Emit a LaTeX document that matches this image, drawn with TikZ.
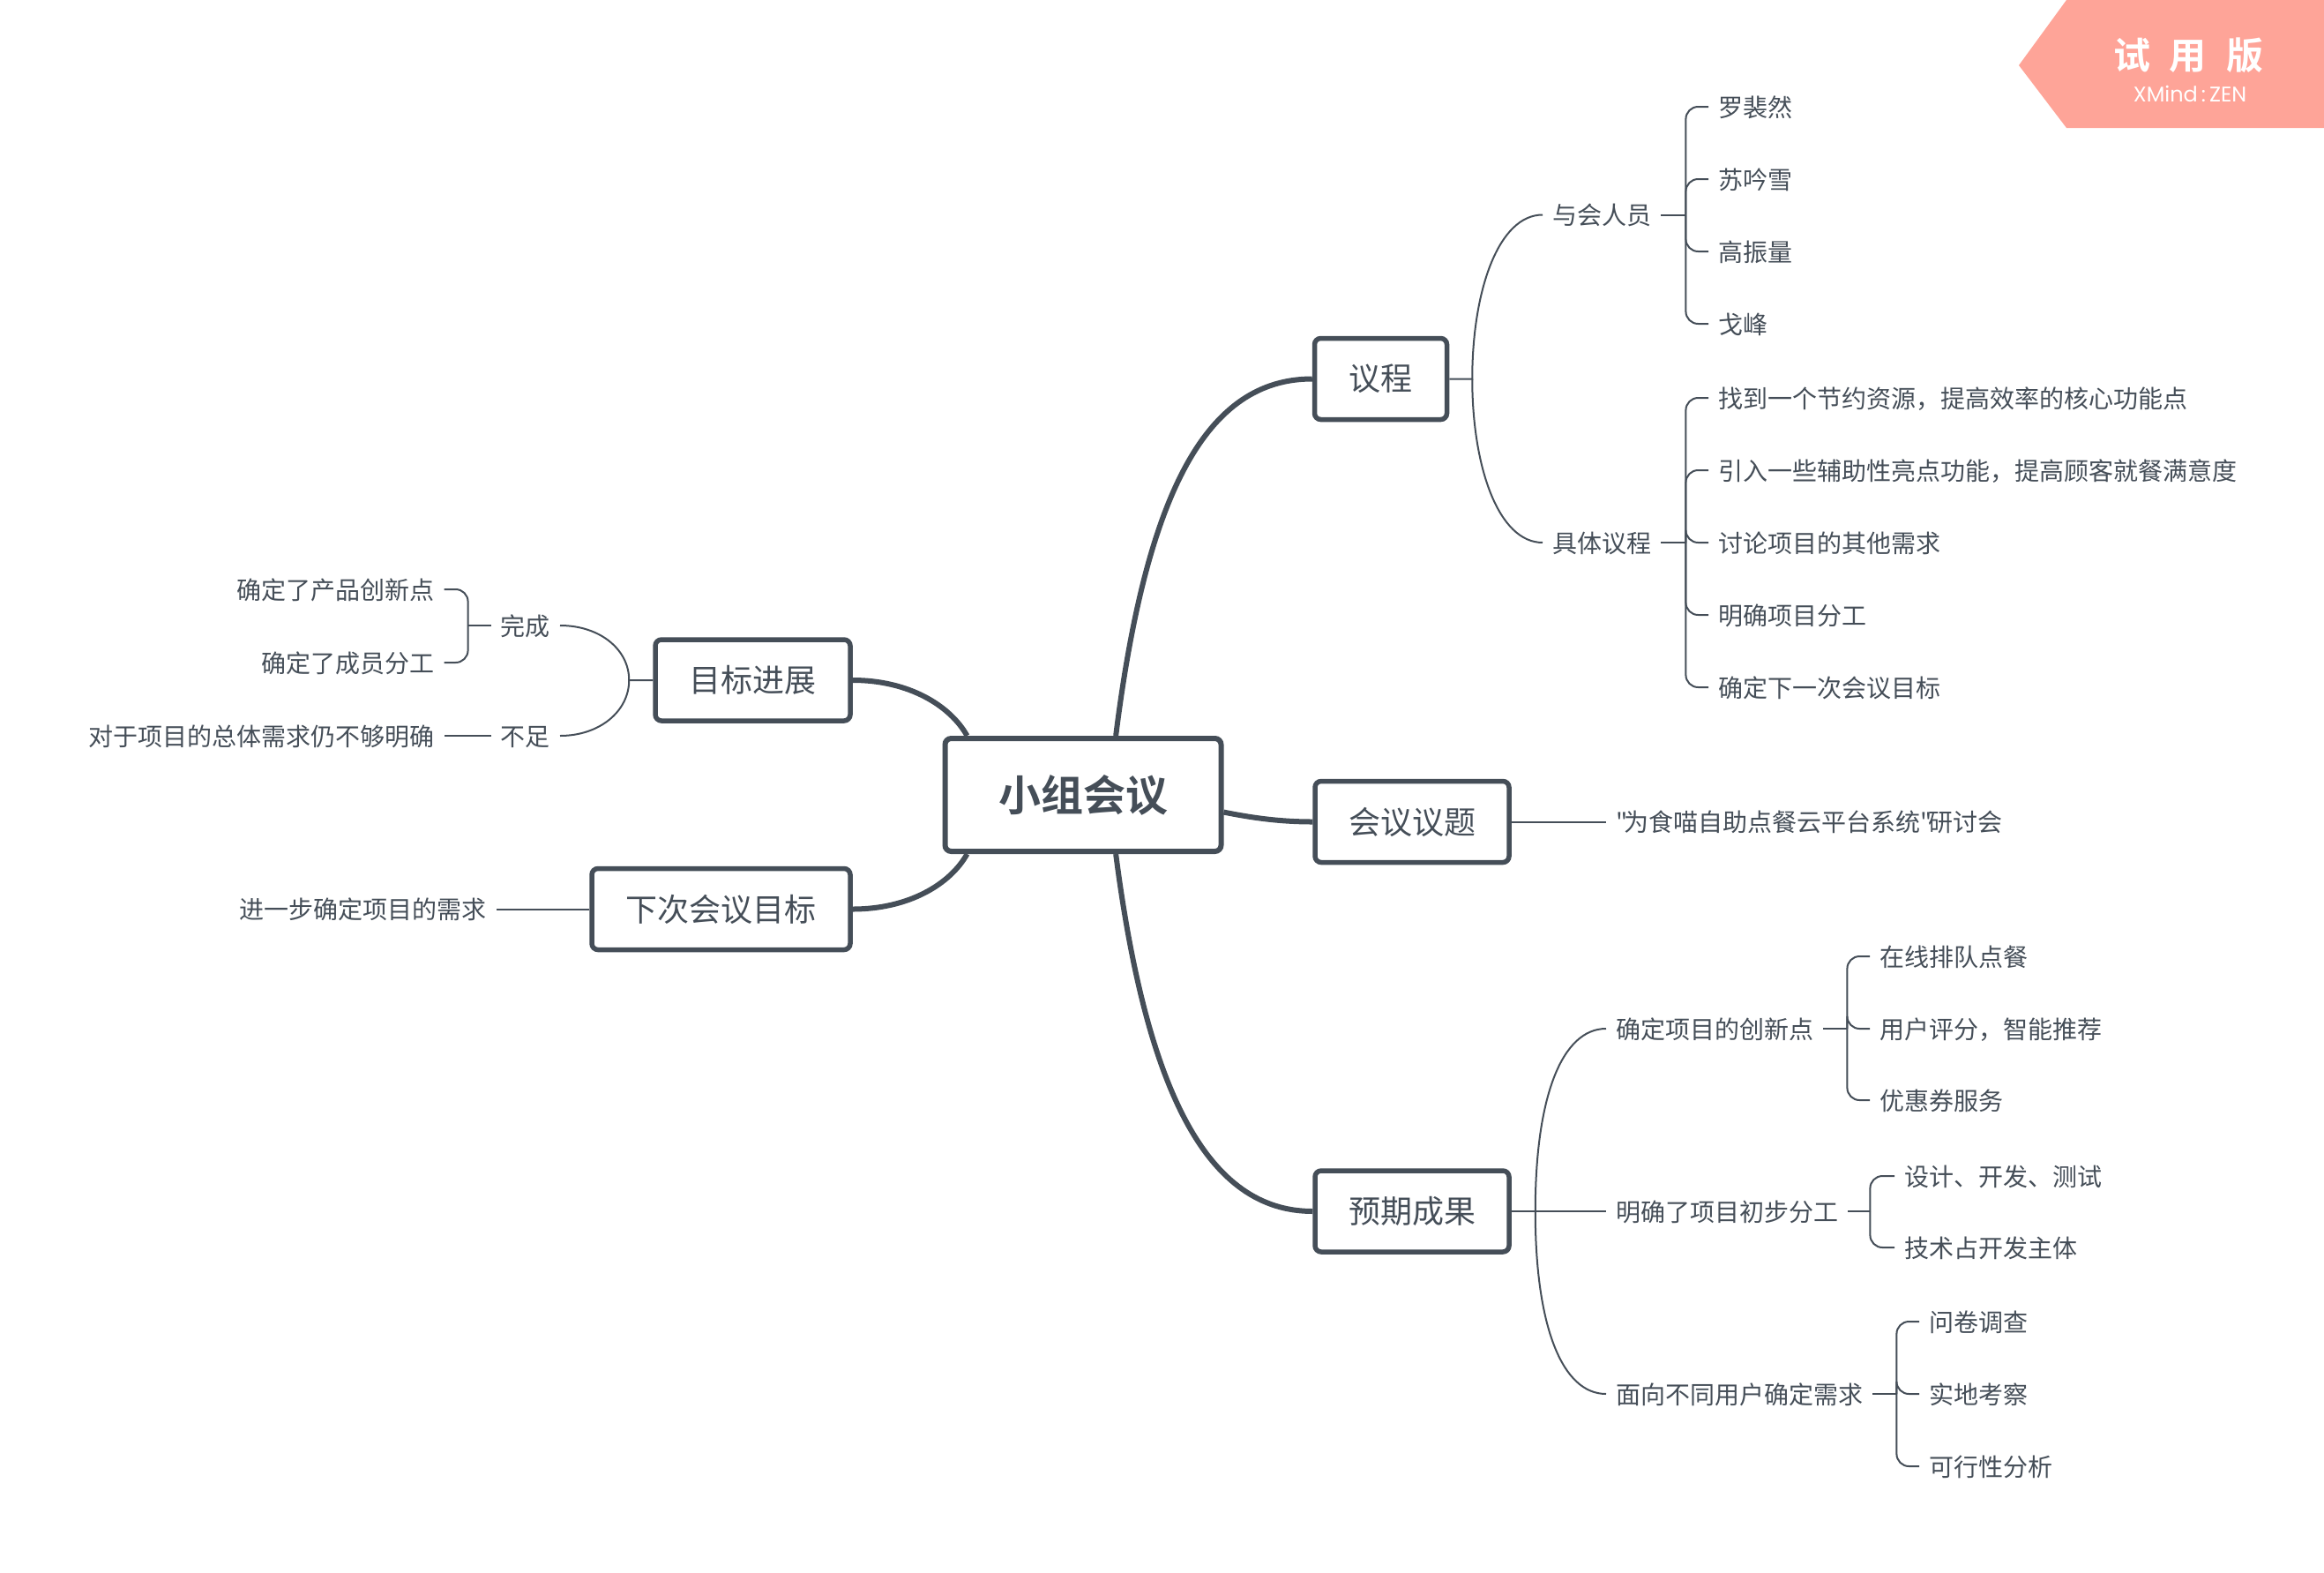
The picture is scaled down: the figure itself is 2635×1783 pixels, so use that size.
\documentclass[tikz,border=0pt]{standalone}
\usepackage{fontspec}
\newfontfamily\cjkplain{Noto Sans CJK SC}
\newfontfamily\cjkbold{Noto Sans CJK SC Bold}
\newfontfamily\latinwm{Poppins}
\definecolor{inkgrey}{HTML}{454E58}
\definecolor{trialpink}{HTML}{FEA498}

\begin{document}
\begin{tikzpicture}[x=1pt,y=-1pt]
		\tikzstyle{every node}+=[text=inkgrey]
		\tikzstyle{rootbox}=[draw=inkgrey,line width=6pt,rounded corners=7pt,minimum width=313pt,minimum height=128pt,font=\cjkbold\fontsize{48}{58}\selectfont]
		\tikzstyle{mainbox}=[draw=inkgrey,line width=5.5pt,rounded corners=7pt,minimum height=92pt,inner sep=0pt,font=\cjkplain\fontsize{36}{44}\selectfont]
		\tikzstyle{subtext}=[inner sep=11pt,text height=26pt,text depth=4pt,font=\cjkplain\fontsize{28}{34}\selectfont]
		\tikzstyle{thick link}=[draw=inkgrey,line width=6pt]
		\tikzstyle{twig}=[draw=inkgrey,line width=2pt]
		\tikzstyle{bent twig}=[twig,rounded corners=14pt]
		\useasboundingbox (0,0) rectangle (2635,1783);
		\fill [trialpink] (2343,0) -- (2289,74) -- (2343,145) -- (2635,145) -- (2635,0) -- cycle;
		\node [text=white,font=\cjkbold\fontsize{42}{50}\selectfont] (trial) at (2481,63) {试\hspace{22pt}用\hspace{22pt}版};
		\node [text=white,font=\latinwm\fontsize{24}{28}\selectfont] (zen) at (2483,106) {XMind\,:\,ZEN};
		\node [rootbox] (root) at (1228,901) {小组会议};
		\node [mainbox,minimum width=150pt] (agenda) at (1565.5,429.5) {议程};
		\node [mainbox,minimum width=220pt] (topic) at (1601,931.5) {会议议题};
		\node [mainbox,minimum width=220pt] (result) at (1601,1373) {预期成果};
		\node [mainbox,minimum width=221pt] (progress) at (853.5,771) {目标进展};
		\node [mainbox,minimum width=293pt] (nextgoal) at (817.5,1030.5) {下次会议目标};
		\node [subtext,anchor=west] (attend) at (1749,243.5) {与会人员};
		\node [subtext,anchor=west] (detail) at (1749,615) {具体议程};
		\node [subtext,anchor=west] (luo) at (1937,121) {罗裴然};
		\node [subtext,anchor=west] (su) at (1937,203) {苏吟雪};
		\node [subtext,anchor=west] (gao) at (1937,285) {高振量};
		\node [subtext,anchor=west] (ge) at (1937,367) {戈峰};
		\node [subtext,anchor=west] (d1) at (1937,451) {找到一个节约资源，提高效率的核心功能点};
		\node [subtext,anchor=west] (d2) at (1937,533) {引入一些辅助性亮点功能，提高顾客就餐满意度};
		\node [subtext,anchor=west] (d3) at (1937,615) {讨论项目的其他需求};
		\node [subtext,anchor=west] (d4) at (1937,697) {明确项目分工};
		\node [subtext,anchor=west] (d5) at (1937,779) {确定下一次会议目标};
		\node [subtext,anchor=west] (seminar) at (1821,931.5) {"\kern-4pt为食喵自助点餐云平台系统"\kern-4pt研讨会};
		\node [subtext,anchor=west] (innov) at (1821,1166) {确定项目的创新点};
		\node [subtext,anchor=west] (work) at (1821,1373) {明确了项目初步分工};
		\node [subtext,anchor=west] (needs) at (1821,1580) {面向不同用户确定需求};
		\node [subtext,anchor=west] (i1) at (2120,1084) {在线排队点餐};
		\node [subtext,anchor=west] (i2) at (2120,1166) {用户评分，智能推荐};
		\node [subtext,anchor=west] (i3) at (2120,1247) {优惠券服务};
		\node [subtext,anchor=west] (w1) at (2148,1333) {设计、开发、测试};
		\node [subtext,anchor=west] (w2) at (2148,1414) {技术占开发主体};
		\node [subtext,anchor=west] (n1) at (2176,1498) {问卷调查};
		\node [subtext,anchor=west] (n2) at (2176,1580) {实地考察};
		\node [subtext,anchor=west] (n3) at (2176,1662) {可行性分析};
		\node [subtext,anchor=east] (done) at (635,709) {完成};
		\node [subtext,anchor=east] (lack) at (635,834) {不足};
		\node [subtext,anchor=east] (p1) at (503.5,668) {确定了产品创新点};
		\node [subtext,anchor=east] (p2) at (503.5,751) {确定了成员分工};
		\node [subtext,anchor=east] (p3) at (503.5,834) {对于项目的总体需求仍不够明确};
		\node [subtext,anchor=east] (further) at (563,1030.5) {进一步确定项目的需求};
		\draw [thick link] (root.61) .. controls +(35,-280) and +(-118,0) .. (agenda.west);
		\draw [thick link] (root.-7.9) .. controls +(35,7) and +(-35,0) .. (topic.west);
		\draw [thick link] (root.-61) .. controls +(35,272) and +(-118,0) .. (result.west);
		\draw [thick link] (root.153.4) .. controls +(-19,-34) and +(64,0) .. (progress.east);
		\draw [thick link] (root.-153.4) .. controls +(-19,34) and +(64,0) .. (nextgoal.east);
		\draw [twig] (agenda.east) -- ++(26,0) .. controls +(0,-100) and +(-50,0) .. (attend.west);
		\draw [twig] (agenda.east) ++(26,0) .. controls +(0,100) and +(-50,0) .. (detail.west);
		\draw [twig] (attend.east) -- ++(28,0);
		\foreach \leaf in {luo,su,gao,ge}
			\draw [bent twig] (attend.east) ++(28,0) |- (\leaf.west);
		\draw [twig] (detail.east) -- ++(28,0);
		\foreach \leaf in {d1,d2,d3,d4,d5}
			\draw [bent twig] (detail.east) ++(28,0) |- (\leaf.west);
		\draw [twig] (topic.east) -- (seminar.west);
		\draw [twig] (result.east) -- (work.west);
		\draw [twig] (result.east) ++(27,0) .. controls +(0,-130) and +(-50,0) .. (innov.west);
		\draw [twig] (result.east) ++(27,0) .. controls +(0,130) and +(-50,0) .. (needs.west);
		\draw [twig] (innov.east) -- ++(27,0);
		\foreach \leaf in {i1,i2,i3}
			\draw [bent twig] (innov.east) ++(27,0) |- (\leaf.west);
		\draw [twig] (work.east) -- ++(25,0);
		\foreach \leaf in {w1,w2}
			\draw [bent twig] (work.east) ++(25,0) |- (\leaf.west);
		\draw [twig] (needs.east) -- ++(27,0);
		\foreach \leaf in {n1,n2,n3}
			\draw [bent twig] (needs.east) ++(27,0) |- (\leaf.west);
		\draw [twig] (progress.west) -- ++(-27,0) .. controls +(0,-35) and +(45,0) .. (done.east);
		\draw [twig] (progress.west) ++(-27,0) .. controls +(0,35) and +(45,0) .. (lack.east);
		\draw [twig] (done.west) -- ++(-26,0);
		\foreach \leaf in {p1,p2}
			\draw [bent twig] (done.west) ++(-26,0) |- (\leaf.east);
		\draw [twig] (lack.west) -- (p3.east);
		\draw [twig] (nextgoal.west) -- (further.east);
\end{tikzpicture}
\end{document}
